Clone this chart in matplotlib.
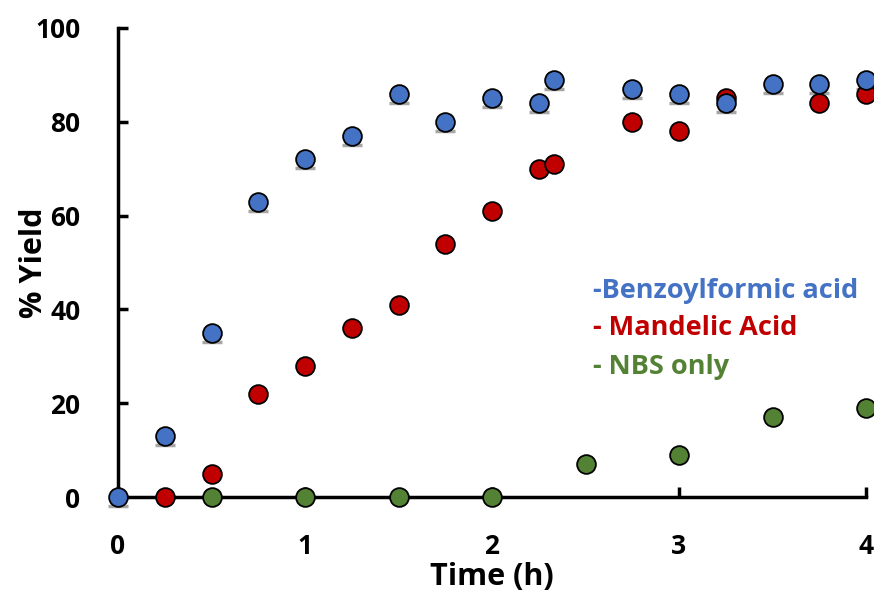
import matplotlib
matplotlib.use("Agg")
import matplotlib.pyplot as plt
from matplotlib.transforms import offset_copy

plt.rcParams['font.family'] = ['Open Sans', 'DejaVu Sans']
plt.rcParams['font.weight'] = 'bold'

# Reaction time (h) and % yield for each substrate
time_bfa = [0, 0.25, 0.5, 0.75, 1, 1.25, 1.5, 1.75, 2, 2.25, 2.33, 2.75, 3, 3.25, 3.5, 3.75, 4]
yield_bfa = [0, 13, 35, 63, 72, 77, 86, 80, 85, 84, 89, 87, 86, 84, 88, 88, 89]

time_ma = [0.25, 0.5, 0.75, 1, 1.25, 1.5, 1.75, 2, 2.25, 2.33, 2.75, 3, 3.25, 3.75, 4]
yield_ma = [0, 5, 22, 28, 36, 41, 54, 61, 70, 71, 80, 78, 85, 84, 86]

time_nbs = [0.5, 1, 1.5, 2, 2.5, 3, 3.5, 4]
yield_nbs = [0, 0, 0, 0, 7, 9, 17, 19]

x_ticks = [0, 1, 2, 3, 4]
y_ticks = [0, 20, 40, 60, 80, 100]

blue = '#4472C4'
red = '#C00000'
green = '#548235'

fig = plt.figure(figsize=(8.74, 5.92), dpi=100)
ax = fig.add_axes([118 / 874, 1 - 497 / 592, (866 - 118) / 874, (497 - 28) / 592])

ms = 13.5
# grey error-bar caps sitting just below the markers
shift = offset_copy(ax.transData, fig=fig, x=0, y=-6.5, units='points')
ax.plot(time_bfa, yield_bfa, ls='none', marker='_', ms=15, mew=2.5,
        color='#A6A6A6', transform=shift, clip_on=False, zorder=3)

ax.plot(time_nbs, yield_nbs, ls='none', marker='o', ms=ms, mfc=green,
        mec='black', mew=1.3, clip_on=False, zorder=4)
ax.plot(time_ma, yield_ma, ls='none', marker='o', ms=ms, mfc=red,
        mec='black', mew=1.3, clip_on=False, zorder=5)
ax.plot(time_bfa, yield_bfa, ls='none', marker='o', ms=ms, mfc=blue,
        mec='black', mew=1.3, clip_on=False, zorder=6)

ax.set_xlim(0, 4)
ax.set_ylim(0, 100)
ax.set_xticks(x_ticks)
ax.set_yticks(y_ticks)
ax.set_xticklabels([str(t) for t in x_ticks])
ax.set_yticklabels([str(t) for t in y_ticks])

for side in ('top', 'right'):
    ax.spines[side].set_visible(False)
for side in ('left', 'bottom'):
    ax.spines[side].set_linewidth(2.5)
    ax.spines[side].set_zorder(2)

ax.tick_params(axis='both', direction='in', length=7, width=2.5,
               labelsize=19)
ax.tick_params(axis='y', pad=27)
ax.tick_params(axis='x', pad=26)
for lab in ax.get_xticklabels() + ax.get_yticklabels():
    lab.set_fontweight('bold')

ax.set_xlabel('Time (h)', fontsize=22, fontweight='bold', labelpad=1)
ax.set_ylabel('% Yield', fontsize=22, fontweight='bold', labelpad=-10)

ax.text(593 / 874, 1 - 291 / 592, '-Benzoylformic acid', transform=fig.transFigure,
        color=blue, fontsize=19.5, fontweight='bold', va='center', ha='left')
ax.text(593 / 874, 1 - 328 / 592, '- Mandelic Acid', transform=fig.transFigure,
        color=red, fontsize=19.5, fontweight='bold', va='center', ha='left')
ax.text(593 / 874, 1 - 367 / 592, '- NBS only', transform=fig.transFigure,
        color=green, fontsize=19.5, fontweight='bold', va='center', ha='left')

fig.savefig('out.png', dpi=100)
